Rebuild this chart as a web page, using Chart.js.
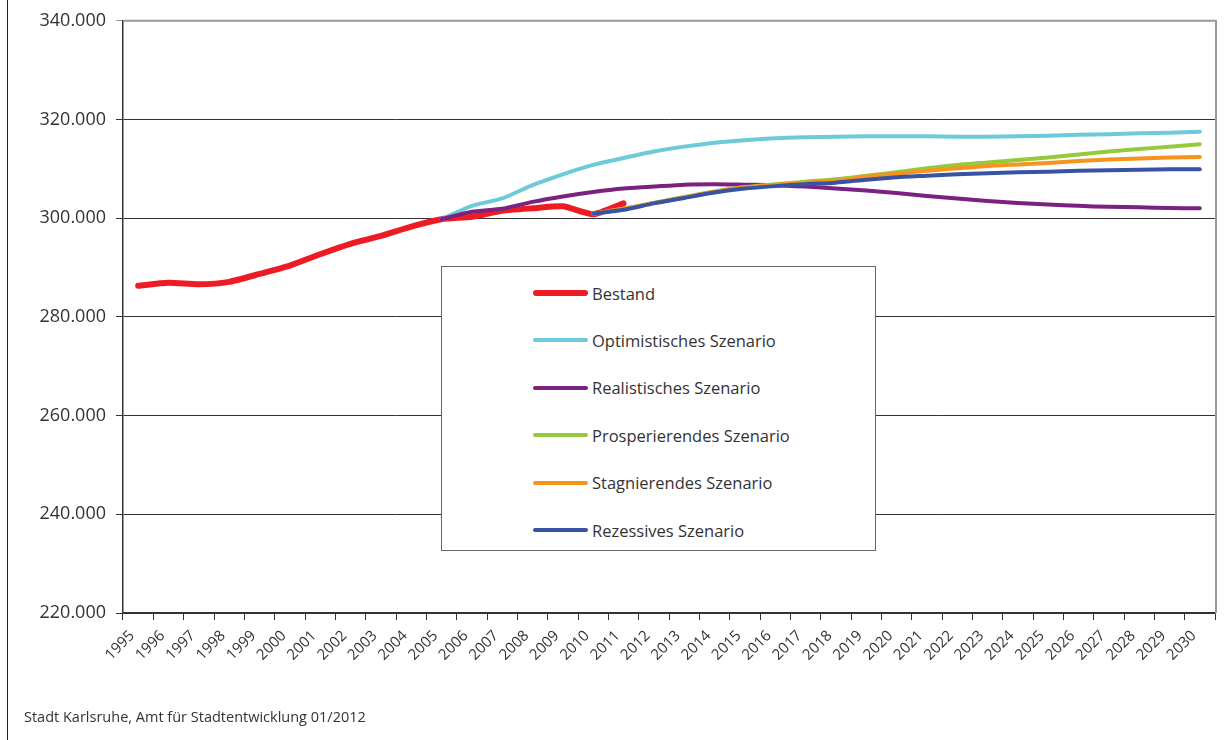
<!DOCTYPE html>
<html>
<head>
<meta charset="utf-8">
<script src="https://cdn.jsdelivr.net/npm/chart.js@4/dist/chart.umd.min.js"></script>
<style>
  body { margin: 0; background: #fff; font-family: 'Open Sans', sans-serif; }
  #wrap { position: relative; width: 1226px; height: 740px; }
  #frame { position: absolute; left: 7px; top: 0; width: 0; height: 740px; border-left: 1.5px solid #222; }
  #legend {
    position: absolute; left: 441px; top: 266px; width: 435px; height: 285px;
    border: 1.5px solid #666; background: #fff; box-sizing: border-box;
  }
  .item { position: absolute; left: 91px; height: 24px; display: flex; align-items: center; }
  .item span.sw { display: inline-block; width: 55px; border-radius: 3px; margin-right: 4px; }
  .item span.tx { font-size: 16.5px; color: #333; }
  #source { position: absolute; left: 24px; top: 707px; font-size: 14.5px; color: #333; }
</style>
</head>
<body>
<div id="wrap">
  <canvas id="chart1" width="1226" height="740"></canvas>
  <div id="frame"></div>
  <div id="legend"></div>
  <div id="source">Stadt Karlsruhe, Amt für Stadtentwicklung 01/2012</div>
</div>
<script>
const years = [];
for (let y = 1995; y <= 2030; y++) years.push(String(y));

// Bestand 1995-2011
const bestand = [286300, 286900, 286600, 287100, 288700, 290400, 292700, 294800, 296400, 298300,
  299800, 300300, 301500, 302000, 302400, 300800, 303000];

// scenarios 2005-2030
const optimistisch = [299800, 302500, 304000, 306700, 308900, 310800, 312200, 313500, 314500, 315300,
  315800, 316200, 316400, 316500, 316600, 316600, 316600, 316500, 316500, 316600,
  316700, 316900, 317000, 317200, 317300, 317500];
const realistisch = [299800, 301300, 301900, 303300, 304400, 305300, 306000, 306400, 306800, 306900,
  306800, 306700, 306400, 306000, 305600, 305100, 304500, 304000, 303500, 303100,
  302800, 302500, 302300, 302200, 302050, 302000];

// scenarios 2010-2030
const prosperierend = [300900, 301900, 303100, 304300, 305400, 306300, 306900, 307400, 307900, 308600,
  309300, 310100, 310800, 311300, 311800, 312300, 312900, 313500, 314000, 314500, 315000];
const stagnierend = [300900, 301900, 303100, 304200, 305300, 306200, 306800, 307200, 307600, 308400,
  309000, 309600, 310100, 310600, 310900, 311200, 311600, 311900, 312100, 312300, 312400];
const rezessiv = [300900, 301700, 303000, 304100, 305200, 306000, 306500, 306900, 307200, 307800,
  308300, 308600, 308900, 309100, 309300, 309400, 309600, 309700, 309800, 309900, 309900];

const yTicks = [220000, 240000, 260000, 280000, 300000, 320000, 340000];

function place(values, startYear) {
  const out = years.map(() => null);
  const off = startYear - 1995;
  values.forEach((v, i) => { out[off + i] = v; });
  return out;
}

function line(label, data, color, width, order) {
  return {
    label: label,
    data: data,
    borderColor: color,
    backgroundColor: color,
    borderWidth: width,
    borderCapStyle: 'round',
    borderJoinStyle: 'round',
    pointRadius: 0,
    tension: 0.2,
    spanGaps: false,
    order: order
  };
}

const datasets = [
  line('Bestand', place(bestand, 1995), '#ED1C24', 6, 6),
  line('Optimistisches Szenario', place(optimistisch, 2005), '#6CCAD9', 4, 5),
  line('Realistisches Szenario', place(realistisch, 2005), '#7B2180', 4, 4),
  line('Prosperierendes Szenario', place(prosperierend, 2010), '#97C93D', 4, 3),
  line('Stagnierendes Szenario', place(stagnierend, 2010), '#F7941D', 4, 2),
  line('Rezessives Szenario', place(rezessiv, 2010), '#3953A4', 4, 1)
];

// legend box inside the plot
const legend = document.getElementById('legend');
datasets.forEach((ds, i) => {
  const div = document.createElement('div');
  div.className = 'item';
  div.style.top = (14 + i * 47.4) + 'px';
  div.innerHTML = '<span class="sw" style="height:' + ds.borderWidth + 'px;background:' + ds.borderColor +
    '"></span><span class="tx">' + ds.label + '</span>';
  legend.appendChild(div);
});

const plotBorder = {
  id: 'plotBorder',
  afterDatasetsDraw(chart) {
    const a = chart.chartArea, ctx = chart.ctx;
    ctx.save();
    ctx.strokeStyle = '#9a9a9a';
    ctx.lineWidth = 2;
    ctx.beginPath();
    ctx.moveTo(a.left, a.top);
    ctx.lineTo(a.right + 1, a.top);
    ctx.lineTo(a.right + 1, a.bottom);
    ctx.stroke();
    ctx.restore();
  }
};

Chart.defaults.font.family = "'Open Sans', sans-serif";
Chart.defaults.color = '#333';

new Chart(document.getElementById('chart1'), {
  type: 'line',
  data: { labels: years, datasets: datasets },
  options: {
    responsive: false,
    animation: false,
    layout: { padding: { left: 0, top: 20, right: 11, bottom: 0 } },
    plugins: { legend: { display: false }, tooltip: { enabled: false } },
    scales: {
      x: {
        offset: true,
        grid: { offset: true, drawOnChartArea: false, tickLength: 7, color: '#333', lineWidth: 1 },
        border: { color: '#333', width: 1.5 },
        ticks: {
          minRotation: 45, maxRotation: 45, autoSkip: false, padding: 7, labelOffset: -6,
          font: { size: 15 }, color: '#333'
        },
        afterFit(scale) { scale.height = 127; }
      },
      y: {
        min: 220000,
        max: 340000,
        afterBuildTicks(scale) { scale.ticks = yTicks.map(v => ({ value: v })); },
        grid: {
          color: ctx => (ctx.tick && ctx.tick.value === 340000) ? '#9a9a9a' : '#333',
          lineWidth: 1,
          tickLength: 7
        },
        border: { color: '#333', width: 1.5 },
        ticks: {
          padding: 10,
          font: { size: 18 },
          color: '#333',
          callback: v => v.toLocaleString('de-DE')
        },
        afterFit(scale) { scale.width = 123; }
      }
    }
  },
  plugins: [plotBorder]
});
</script>
</body>
</html>
